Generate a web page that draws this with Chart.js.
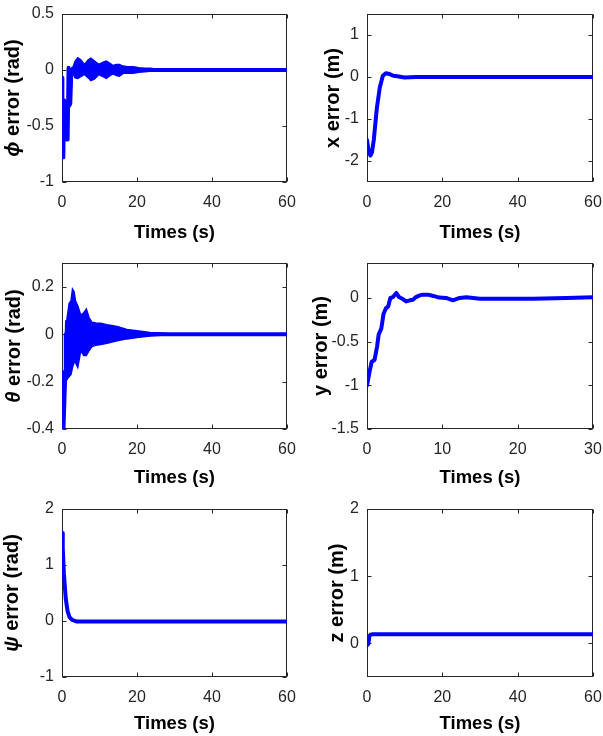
<!DOCTYPE html>
<html>
<head>
<meta charset="utf-8">
<script src="https://cdn.jsdelivr.net/npm/chart.js@4.4.0/dist/chart.umd.min.js"></script>
<style>
  html, body { margin: 0; padding: 0; background: #fff; }
  #wrap { position: relative; width: 603px; height: 736px; overflow: hidden; }
  .panel { position: absolute; }
</style>
</head>
<body>
<div id="wrap"></div>
<script>
// --- tick labels ---
const timeTicks60 = [0, 20, 40, 60];
const timeTicks30 = [0, 10, 20, 30];
const phiTicks = [-1, -0.5, 0, 0.5];
const xTicks = [-2, -1, 0, 1];
const thetaTicks = [-0.4, -0.2, 0, 0.2];
const yTicks = [-1.5, -1, -0.5, 0];
const psiTicks = [-1, 0, 1, 2];
const zTicks = [0, 1, 2];

// --- phi error (rad) ---
const phiT = [0, 0.1, 0.35, 0.55, 0.8, 1.3, 1.5, 1.75, 1.9, 2.2, 2.5, 27, 60];
const phiV = [-0.07, -0.78, -0.78, -0.27, -0.35, -0.62, -0.62, 0.02, -0.32, -0.3, 0, 0, 0];
const phiBandT  = [2.5, 3.0, 3.5, 4.2, 5.0, 6.0, 7.0, 7.7, 8.7, 9.8, 11, 11.8, 12.8, 13.6, 14.5, 15.3, 16.3, 17.5, 19, 20.5, 22, 23.5, 25, 27];
const phiBandHi = [0.02, 0.03, 0.08, 0.11, 0.09, 0.05, 0.09, 0.105, 0.08, 0.05, 0.07, 0.08, 0.06, 0.04, 0.05, 0.05, 0.035, 0.03, 0.03, 0.02, 0.015, 0.015, 0.01, 0.005];
const phiBandLo = [-0.01, -0.04, -0.07, -0.075, -0.06, -0.04, -0.07, -0.095, -0.08, -0.04, -0.06, -0.075, -0.05, -0.035, -0.05, -0.055, -0.03, -0.03, -0.03, -0.02, -0.015, -0.012, -0.008, -0.005];

// --- x error (m) ---
const xT = [0, 0.4, 0.9, 1.3, 1.8, 2.6, 3.4, 4.2, 5.0, 6, 7, 8, 10, 13, 60];
const xV = [-1.5, -1.75, -1.87, -1.8, -1.5, -0.75, -0.25, 0.03, 0.09, 0.07, 0.03, 0.02, -0.01, 0, 0];

// --- theta error (rad) ---
const thetaT = [0, 0.1, 0.35, 0.6, 0.8, 1.0, 31, 60];
const thetaV = [-0.16, -0.42, -0.42, -0.3, -0.19, 0, 0, 0];
const thetaBandT  = [0.75, 1.0, 1.3, 1.9, 2.4, 2.8, 3.2, 3.6, 4.2, 5.0, 5.8, 6.5, 7.2, 8.0, 9.0, 10.3, 12, 14.7, 17.3, 20, 23.5, 28, 31];
const thetaBandHi = [-0.1, 0.055, 0.06, 0.13, 0.14, 0.19, 0.18, 0.14, 0.12, 0.08, 0.09, 0.105, 0.07, 0.05, 0.047, 0.046, 0.04, 0.032, 0.02, 0.014, 0.007, 0.003, 0.002];
const thetaBandLo = [-0.3, -0.19, -0.19, -0.18, -0.17, -0.14, -0.12, -0.12, -0.14, -0.07, -0.09, -0.09, -0.07, -0.052, -0.047, -0.044, -0.038, -0.028, -0.02, -0.014, -0.008, -0.003, -0.002];

// --- y error (m), 0..30 s ---
const yT = [0, 0.35, 0.62, 1.0, 1.33, 1.55, 1.9, 2.2, 2.5, 2.8, 3.1, 3.45, 3.9, 4.25, 4.8, 5.2, 5.7, 6.1, 6.5, 7.0, 7.4, 8.1, 8.8, 9.6, 10.5, 11.4, 12.3, 13.2, 15, 17.6, 22, 26.5, 30];
const yV = [-1.0, -0.84, -0.73, -0.71, -0.56, -0.42, -0.35, -0.18, -0.12, -0.1, 0.0, 0.01, 0.057, 0.01, -0.015, -0.04, -0.027, -0.02, 0.01, 0.03, 0.038, 0.038, 0.023, 0.004, 0, -0.027, 0, 0.008, -0.008, -0.008, -0.008, 0, 0.008];

// --- psi error (rad) ---
const psiT = [0, 0.2, 0.5, 1.0, 1.5, 2.0, 2.7, 4.0, 10, 30, 50, 60];
const psiV = [1.57, 1.3, 0.85, 0.4, 0.17, 0.07, 0.02, -0.01, -0.01, -0.01, -0.01, -0.01];

// --- z error (m) ---
const zT = [0, 0.2, 0.4, 0.6, 0.9, 1.5, 60];
const zV = [0, -0.02, 0, 0.1, 0.13, 0.135, 0.135];

const BLUE = '#0000ff';
const AXIS = '#262626';
const FONT = 'Liberation Sans, Arial, sans-serif';

function pts(ts, vs) { return ts.map((t, i) => ({ x: t, y: vs[i] })); }

// frame with inward ticks on all four sides (MATLAB box style)
const framePlugin = {
  id: 'frame',
  beforeDatasetsDraw(chart) {
    const { ctx, chartArea: a, scales } = chart;
    const L = Math.round(a.left) + 0.5, R = Math.round(a.right) - 0.5;
    const T = Math.round(a.top) + 0.5, B = Math.round(a.bottom) - 0.5;
    ctx.save();
    ctx.strokeStyle = AXIS;
    ctx.lineWidth = 1;
    ctx.strokeRect(L, T, R - L, B - T);
    ctx.beginPath();
    scales.x.ticks.forEach(t => {
      const px = Math.round(scales.x.getPixelForValue(t.value)) + 0.5;
      ctx.moveTo(px, B); ctx.lineTo(px, B - 4);
      ctx.moveTo(px, T); ctx.lineTo(px, T + 4);
    });
    scales.y.ticks.forEach(t => {
      const py = Math.round(scales.y.getPixelForValue(t.value)) + 0.5;
      ctx.moveTo(L, py); ctx.lineTo(L + 4, py);
      ctx.moveTo(R, py); ctx.lineTo(R - 4, py);
    });
    ctx.stroke();
    ctx.restore();
  }
};

// y-axis title: italic greek symbol followed by upright bold text
const yTitlePlugin = {
  id: 'ytitle',
  afterDraw(chart, args, opts) {
    const { ctx, chartArea: a } = chart;
    const f1 = 'italic bold 20px ' + FONT;
    const f2 = 'bold 20px ' + FONT;
    ctx.save();
    ctx.font = f1;
    const w1 = opts.greek ? ctx.measureText(opts.greek).width : 0;
    ctx.font = f2;
    const w2 = ctx.measureText(opts.text).width;
    ctx.translate(opts.cx, (a.top + a.bottom) / 2);
    ctx.rotate(-Math.PI / 2);
    ctx.fillStyle = '#000';
    ctx.textBaseline = 'middle';
    ctx.textAlign = 'left';
    let x0 = -(w1 + w2) / 2;
    if (opts.greek) {
      ctx.font = f1;
      ctx.fillText(opts.greek, x0, 0);
      x0 += w1;
    }
    ctx.font = f2;
    ctx.fillText(opts.text, x0, 0);
    ctx.restore();
  }
};

const panels = [
  { box: [0, 0, 300, 245],   area: [62, 14, 287, 182],  greek: 'ϕ', title: ' error (rad)', tcx: 13,
    xmax: 60, xt: timeTicks60, ymin: -1, ymax: 0.5, yt: phiTicks,
    line: pts(phiT, phiV), band: [pts(phiBandT, phiBandHi), pts(phiBandT, phiBandLo)] },
  { box: [300, 0, 303, 245], area: [367, 14, 593, 182], greek: '', title: 'x error (m)', tcx: 33,
    xmax: 60, xt: timeTicks60, ymin: -2.5, ymax: 1.5, yt: xTicks,
    line: pts(xT, xV) },
  { box: [0, 245, 300, 245], area: [62, 263, 287, 429], greek: 'θ', title: ' error (rad)', tcx: 14,
    xmax: 60, xt: timeTicks60, ymin: -0.4, ymax: 0.3, yt: thetaTicks,
    line: pts(thetaT, thetaV), band: [pts(thetaBandT, thetaBandHi), pts(thetaBandT, thetaBandLo)] },
  { box: [300, 245, 303, 245], area: [367, 263, 593, 429], greek: '', title: 'y error (m)', tcx: 21,
    xmax: 30, xt: timeTicks30, ymin: -1.5, ymax: 0.4, yt: yTicks,
    line: pts(yT, yV) },
  { box: [0, 490, 300, 246], area: [62, 509, 287, 677], greek: 'ψ', title: ' error (rad)', tcx: 12,
    xmax: 60, xt: timeTicks60, ymin: -1, ymax: 2, yt: psiTicks,
    line: pts(psiT, psiV) },
  { box: [300, 490, 303, 246], area: [367, 509, 593, 677], greek: '', title: 'z error (m)', tcx: 37,
    xmax: 60, xt: timeTicks60, ymin: -0.5, ymax: 2, yt: zTicks,
    line: pts(zT, zV) }
];

const wrap = document.getElementById('wrap');

panels.forEach(p => {
  const [bx, by, bw, bh] = p.box;
  const [al, at, ar, ab] = p.area;
  const div = document.createElement('div');
  div.className = 'panel';
  div.style.left = bx + 'px';
  div.style.top = by + 'px';
  const cv = document.createElement('canvas');
  cv.width = bw; cv.height = bh;
  cv.style.width = bw + 'px'; cv.style.height = bh + 'px';
  div.appendChild(cv);
  wrap.appendChild(div);

  const datasets = [];
  if (p.band) {
    datasets.push({ data: p.band[0], borderColor: BLUE, backgroundColor: BLUE, borderWidth: 1.5, pointRadius: 0, fill: '+1' });
    datasets.push({ data: p.band[1], borderColor: BLUE, borderWidth: 1.5, pointRadius: 0, fill: false });
  }
  datasets.push({ data: p.line, borderColor: BLUE, borderWidth: 4, pointRadius: 0, fill: false, tension: 0,
    borderJoinStyle: 'round', borderCapStyle: 'round' });

  new Chart(cv, {
    type: 'line',
    data: { datasets },
    options: {
      responsive: false,
      animation: false,
      events: [],
      layout: { padding: { left: 0, top: at - by, right: bx + bw - ar, bottom: 0 } },
      plugins: {
        legend: { display: false }, tooltip: { enabled: false },
        ytitle: { greek: p.greek, text: p.title, cx: p.tcx }
      },
      scales: {
        x: {
          type: 'linear', min: 0, max: p.xmax, bounds: 'data',
          grid: { display: false, drawTicks: false, tickLength: 0 }, border: { display: false },
          afterBuildTicks: s => { s.ticks = p.xt.map(v => ({ value: v })); },
          afterFit: s => { s.height = by + bh - ab; s.paddingLeft = 0; s.paddingRight = 0; },
          ticks: { color: AXIS, padding: 11, maxRotation: 0, autoSkip: false,
            font: { family: FONT, size: 16 }, callback: v => String(v) },
          title: { display: true, text: 'Times (s)', color: '#000', padding: { top: 0, bottom: 1 },
            font: { family: FONT, size: 18.5, weight: 'bold' } }
        },
        y: {
          type: 'linear', min: p.ymin, max: p.ymax, bounds: 'data',
          grid: { display: false, drawTicks: false, tickLength: 0 }, border: { display: false },
          afterBuildTicks: s => { s.ticks = p.yt.map(v => ({ value: v })); },
          afterFit: s => { s.width = al - bx; s.paddingTop = 0; s.paddingBottom = 0; },
          ticks: { color: AXIS, padding: 8, autoSkip: false,
            font: { family: FONT, size: 16 }, callback: v => String(v) }
        }
      }
    },
    plugins: [framePlugin, yTitlePlugin]
  });
});
</script>
</body>
</html>
